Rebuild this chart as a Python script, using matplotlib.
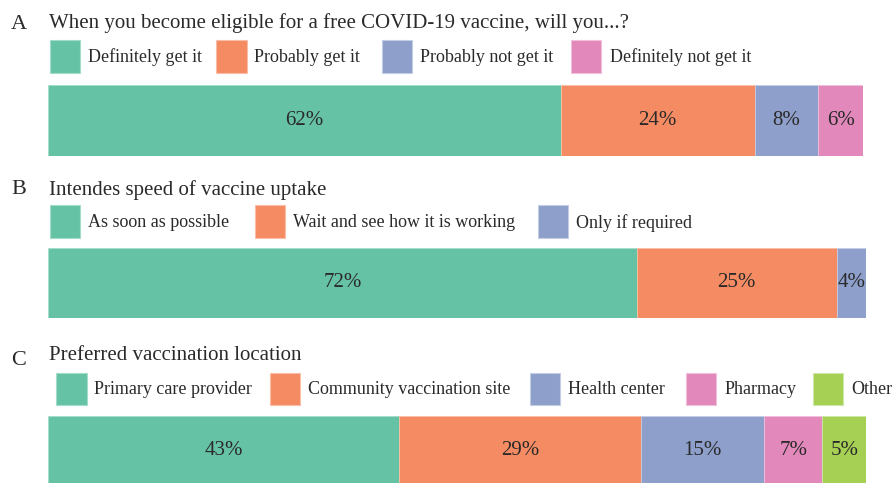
import matplotlib
matplotlib.use("Agg")
import matplotlib.pyplot as plt
from matplotlib.patches import Rectangle

# ---------------- data ----------------
titles = [
    "When you become eligible for a free COVID-19 vaccine, will you...?",
    "Intendes speed of vaccine uptake",
    "Preferred vaccination location",
]
panel_letters = ["A", "B", "C"]

cats_A = ["Definitely get it", "Probably get it", "Probably not get it", "Definitely not get it"]
vals_A = [62.9, 23.8, 7.8, 5.5]
labels_A = ["62%", "24%", "8%", "6%"]

cats_B = ["As soon as possible", "Wait and see how it is working", "Only if required"]
vals_B = [72.0, 24.4, 3.6]
labels_B = ["72%", "25%", "4%"]

cats_C = ["Primary care provider", "Community vaccination site", "Health center", "Pharmacy", "Other"]
vals_C = [42.9, 29.5, 15.1, 7.1, 5.4]
labels_C = ["43%", "29%", "15%", "7%", "5%"]

# ---------------- style ----------------
colors = ["#66c2a5", "#f58b63", "#8d9fca", "#e288ba", "#a6d054"]
edge_colors = ["#a3dcc9", "#f9bfa6", "#c3cde4", "#f0c0dc", "#cde8a8"]
text_color = "#2a2a2a"
FONT = ["Liberation Serif", "DejaVu Serif"]
W, H = 895, 483
fig = plt.figure(figsize=(W / 100, H / 100), dpi=100)
fig.patch.set_facecolor("white")


def fx(x):
    return x / W


def fy(y):
    return 1 - y / H


panels = [
    dict(cats=cats_A, vals=vals_A, labels=labels_A,
         letter_y=29, title_y=28, leg_top=40, leg_bot=72.5,
         sq_x=[50, 216.5, 382.5, 571.5], bar_top=85, bar_bot=155.5, bar_right=863),
    dict(cats=cats_B, vals=vals_B, labels=labels_B,
         letter_y=194, title_y=195, leg_top=205.5, leg_bot=238,
         sq_x=[50, 255, 538.5], bar_top=247.5, bar_bot=317.5, bar_right=866),
    dict(cats=cats_C, vals=vals_C, labels=labels_C,
         letter_y=365, title_y=360, leg_top=372.5, leg_bot=404.5,
         sq_x=[56.5, 270, 530.5, 686.5, 813], bar_top=416, bar_bot=486, bar_right=866.5),
]

fs_title = 15
fs_leg = 13
fs_lab = 15
for i, p in enumerate(panels):
    # panel letter and title
    fig.text(fx(11), fy(p["letter_y"]), panel_letters[i], fontsize=16,
             family=FONT, color=text_color, va="baseline", ha="left")
    fig.text(fx(49), fy(p["title_y"]), titles[i], fontsize=fs_title,
             family=FONT, color=text_color, va="baseline", ha="left")
    # legend
    ly0, ly1 = p["leg_top"], p["leg_bot"]
    for j, (cat, sx) in enumerate(zip(p["cats"], p["sq_x"])):
        fig.patches.append(Rectangle((fx(sx), fy(ly1)), fx(30), (ly1 - ly0) / H,
                                     transform=fig.transFigure, facecolor=colors[j],
                                     edgecolor=edge_colors[j], linewidth=0.8))
        fig.text(fx(sx + 38), fy((ly0 + ly1) / 2 + 1), cat, fontsize=fs_leg,
                 family=FONT, color=text_color, va="center", ha="left")
    # bar
    x0 = 48
    ax = fig.add_axes([fx(x0), fy(p["bar_bot"]), fx(p["bar_right"] - x0),
                       (p["bar_bot"] - p["bar_top"]) / H])
    left = 0
    for j, (v, lab) in enumerate(zip(p["vals"], p["labels"])):
        ax.barh(0, v, left=left, height=1.0, color=colors[j],
                edgecolor=edge_colors[j], linewidth=0.6)
        ax.text(left + v / 2, 0, lab, ha="center", va="center", fontsize=fs_lab,
                family=FONT, color=text_color)
        left += v
    ax.set_xlim(0, sum(p["vals"]))
    ax.set_ylim(-0.5, 0.5)
    ax.axis("off")

fig.savefig("out.png", dpi=100, facecolor="white")
